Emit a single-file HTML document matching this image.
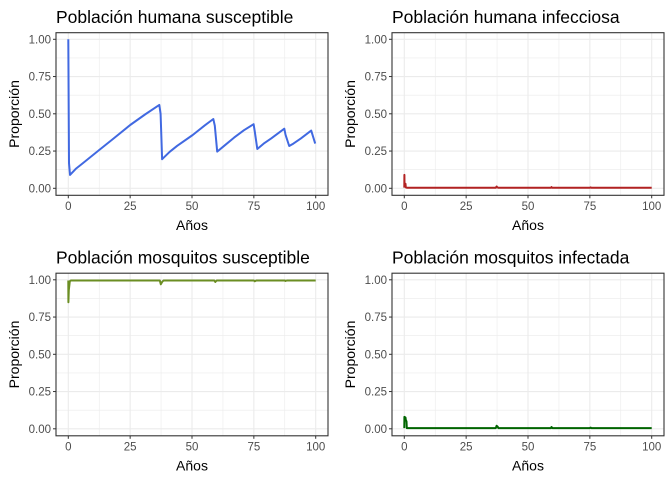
<!DOCTYPE html>
<html><head><meta charset="utf-8"><style>
body{margin:0;background:#fff}
svg text{font-family:"Liberation Sans",Arial,sans-serif}
</style></head><body>
<svg id="c" width="672" height="480" xmlns="http://www.w3.org/2000/svg"></svg>
<script>
const xTicks=[0,25,50,75,100];
const yTicks=[0,0.25,0.5,0.75,1];
const yTickLabels=["0.00","0.25","0.50","0.75","1.00"];
const titles=["Población humana susceptible","Población humana infecciosa","Población mosquitos susceptible","Población mosquitos infectada"];
const colors=["#4169E1","#B22222","#6B8E23","#006400"];
const t1=[0,0.3,0.7,3,6,12.5,18,25,31,36.8,37.3,37.9,41,44,50.3,55,58.6,59.2,60.2,63,67,71,74.9,75.4,76.4,79,82,87.3,87.8,89.3,91,94,98.2,99.8];
const v1=[1.0,0.17,0.09,0.13,0.17,0.257,0.33,0.425,0.495,0.56,0.50,0.195,0.245,0.285,0.358,0.42,0.465,0.42,0.246,0.285,0.34,0.39,0.43,0.38,0.264,0.30,0.335,0.40,0.36,0.284,0.30,0.335,0.387,0.30];
const t2=[0,0.05,0.1,0.5,0.6,1,37,37.3,37.6,38,59.3,59.5,59.8,75,75.3,75.6,100];
const v2=[0.005,0.09,0.03,0.03,0.006,0.004,0.004,0.012,0.006,0.004,0.004,0.008,0.004,0.004,0.006,0.004,0.004];
const t3=[0,0.05,0.2,0.6,1,37,37.4,37.9,38.5,59,59.4,60,75,75.4,76,87.5,87.8,88.3,100];
const v3=[0.995,0.85,0.93,0.99,0.995,0.995,0.97,0.985,0.995,0.995,0.985,0.995,0.995,0.99,0.995,0.995,0.992,0.995,0.995];
const t4=[0,0.05,0.5,0.6,0.9,1,37,37.3,37.7,38,59.3,59.5,59.9,75,75.3,75.6,100];
const v4=[0.005,0.08,0.075,0.06,0.05,0.005,0.005,0.02,0.015,0.005,0.005,0.012,0.005,0.005,0.008,0.005,0.005];
const series=[[t1,v1],[t2,v2],[t3,v3],[t4,v4]];
const svg=document.getElementById('c');
const NS="http://www.w3.org/2000/svg";
function mk(tag,attrs,parent){const e=document.createElementNS(NS,tag);for(const k in attrs)e.setAttribute(k,attrs[k]);parent.appendChild(e);return e;}
for(let p=0;p<4;p++){
  const ox=(p%2)*336, oy=Math.floor(p/2)*240.5;
  const g=mk('g',{},svg);
  
  
  const L=ox+56,R=ox+328,T=oy+32.7,B=oy+195.3;
  const xs=v=>ox+68.3+v*2.474;
  const ys=v=>oy+188.3-v*149;
  for(let i=0;i<4;i++){const v=12.5+25*i;const l=mk('line',{x1:xs(v),x2:xs(v),y1:T,y2:B,stroke:'#ebebeb','stroke-width':0.6},g);}
  for(let i=0;i<4;i++){const v=0.125+0.25*i;const l=mk('line',{x1:L,x2:R,y1:ys(v),y2:ys(v),stroke:'#ebebeb','stroke-width':0.6},g);}
  xTicks.forEach(v=>{const l=mk('line',{x1:xs(v),x2:xs(v),y1:T,y2:B,stroke:'#ebebeb','stroke-width':1.1},g);
    const tk=mk('line',{x1:xs(v),x2:xs(v),y1:B,y2:B+3,stroke:'#333','stroke-width':1},g);
    const tx=mk('text',{x:xs(v),y:B+14.5,'text-anchor':'middle','font-size':'11.5px',fill:'#4d4d4d'},g);tx.textContent=v;});
  yTicks.forEach((v,i)=>{const l=mk('line',{x1:L,x2:R,y1:ys(v),y2:ys(v),stroke:'#ebebeb','stroke-width':1.1},g);
    const tk=mk('line',{x1:L-3,x2:L,y1:ys(v),y2:ys(v),stroke:'#333','stroke-width':1},g);
    const tx=mk('text',{x:L-5,y:ys(v)+4,'text-anchor':'end','font-size':'11.5px',fill:'#4d4d4d'},g);tx.textContent=yTickLabels[i];});
  const [ts,vs]=series[p];
  const d=ts.map((t,i)=>(i?'L':'M')+xs(t).toFixed(1)+','+ys(vs[i]).toFixed(1)).join(' ');
  const path=mk('path',{d:d,fill:'none',stroke:colors[p],'stroke-width':2,'stroke-linejoin':'round'},g);
  
  
  const fr=mk('rect',{x:L,y:T,width:R-L,height:B-T,fill:'none',stroke:'#333','stroke-width':1.1},g);
  
  
  const ti=mk('text',{x:L,y:oy+23,'font-size':'17.5px',fill:'#000'},g);ti.textContent=titles[p];
  
  
  const xt=mk('text',{x:(L+R)/2,y:oy+230,'text-anchor':'middle','font-size':'14px',fill:'#000'},g);xt.textContent='Años';
  
  
  const yt=mk('text',{x:0,y:0,'text-anchor':'middle','font-size':'14px',fill:'#000',transform:`translate(${ox+19},${(T+B)/2}) rotate(-90)`},g);yt.textContent='Proporción';
  
  
}
</script>
</body></html>
